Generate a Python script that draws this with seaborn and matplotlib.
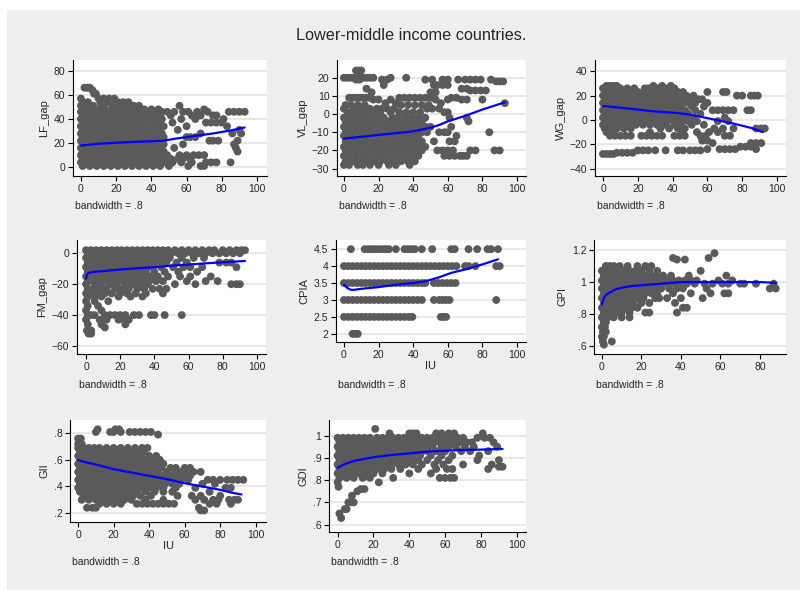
import matplotlib
matplotlib.use("Agg")
import matplotlib.pyplot as plt
from matplotlib.patches import Rectangle
import seaborn as sns
import pandas as pd

# ---------------- data ----------------
title = "Lower-middle income countries."
note = "bandwidth = .8"

# rows: (y value, [IU values])
lf_rows = [
    (66, [2, 3.5, 5]), (64, [6.5]), (61, [7.5, 8.5]),
    (57, [0, 10, 13, 16, 19]),
    (54, [1, 4, 11, 15, 21, 24, 27]),
    (51, [0, 3, 7, 12, 18, 22, 26, 30, 33, 56]),
    (48, [1, 5, 9, 14, 19, 23, 28, 32, 36, 40, 44, 70]),
    (46, [0, 3, 7, 11, 16, 21, 25, 30, 34, 38, 42, 46, 49, 53, 58, 61, 66, 72, 84, 87, 90, 93]),
    (43, [1, 5, 9, 13, 18, 23, 27, 31, 36, 40, 45, 51, 63, 68, 75, 77]),
    (40, [0, 3, 7, 11, 15, 20, 25, 29, 33, 38, 42, 46, 57, 65, 81]),
    (37, [1, 5, 9, 13, 17, 22, 27, 31, 35, 40, 44, 52, 71, 74, 77, 80]),
    (34, [0, 3, 7, 11, 15, 19, 24, 29, 33, 37, 42, 47, 60, 83]),
    (31, [1, 5, 9, 13, 17, 21, 26, 31, 35, 39, 44, 55, 90]),
    (28, [0, 3, 7, 11, 15, 19, 23, 28, 33, 37, 41, 46, 68, 86, 91]),
    (25, [1, 5, 9, 13, 17, 21, 25, 30, 35, 39, 43, 47, 60, 62, 65]),
    (22, [0, 3, 7, 11, 15, 19, 23, 27, 32, 37, 41, 45, 73, 75, 78, 89]),
    (19, [1, 5, 9, 13, 17, 21, 25, 29, 34, 39, 43, 47, 58, 87]),
    (16, [0, 3, 7, 11, 15, 19, 23, 27, 31, 36, 41, 45, 53, 88]),
    (13, [1, 5, 9, 13, 17, 21, 25, 29, 33, 38, 43, 47, 89]),
    (10, [0, 3, 7, 11, 15, 19, 23, 28, 32, 36, 40, 45, 49, 56, 60, 64, 67, 70]),
    (7, [1, 5, 9, 13, 17, 21, 25, 30, 34, 38, 42, 46, 51, 55, 58, 62]),
    (4, [0, 3, 7, 11, 15, 19, 23, 27, 32, 36, 40, 44, 48, 52, 57, 63, 71, 74, 77, 85]),
    (1, [1, 5, 9, 13, 17, 21, 25, 29, 33, 37, 41, 45, 50, 61, 68, 70]),
]
lf_curve_x = [0, 10, 20, 30, 40, 47, 55, 65, 75, 85, 93]
lf_curve_y = [18, 19.5, 20.3, 21, 21.5, 22, 24, 26, 28, 30.5, 33]

vl_rows = [
    (24, [7, 8.5, 10]), (22, [9]),
    (20, [0, 2, 4, 5.5, 11, 13, 15, 17, 27, 36]),
    (19, [7, 9, 22, 25, 47, 51, 57, 60, 66, 70, 73, 76, 79, 85]),
    (18, [88, 90, 92]),
    (16, [23, 52, 54, 57, 60]),
    (14, [13, 68, 71]),
    (13, [73, 76, 79, 82]),
    (12, [16, 50, 53]),
    (9, [3, 5, 7, 9, 11, 13, 15, 32, 35, 38, 41, 44, 47, 50, 62, 65]),
    (8, [17, 20, 27, 53, 60, 68, 71, 80]),
    (6, [24, 30, 56, 93]),
    (5, [1, 4, 8, 12, 33, 37, 41, 45, 49]),
    (3, [0, 6, 10, 15, 19, 22, 25, 29, 48, 51, 55]),
    (1, [2, 5, 9, 13, 17, 21, 27, 32, 36, 40, 44, 58, 60]),
    (-2, [0, 3, 7, 11, 15, 19, 23, 28, 31, 35, 39, 43, 47, 61, 71]),
    (-4, [1, 5, 9, 13, 17, 21, 25, 29, 33, 37, 41, 45, 72]),
    (-7, [0, 3, 7, 11, 15, 19, 23, 27, 31, 35, 39, 43, 47, 50, 62]),
    (-10, [1, 5, 9, 13, 17, 21, 25, 29, 33, 37, 41, 45, 48, 55, 58, 60, 84]),
    (-12, [0, 3, 7, 11, 15, 19, 23, 27, 31, 35, 39, 43, 65]),
    (-15, [1, 5, 9, 13, 17, 21, 25, 29, 33, 37, 41, 45, 52, 61, 64]),
    (-18, [0, 3, 7, 11, 15, 19, 23, 27, 31, 35, 39, 43, 47]),
    (-20, [1, 5, 9, 13, 17, 21, 25, 29, 33, 37, 41, 45, 54, 57, 60, 63, 73, 76, 87, 90]),
    (-23, [0, 3, 7, 11, 15, 19, 23, 27, 31, 35, 39, 43, 58, 61, 64, 67, 69, 71]),
    (-26, [1, 5, 9, 13, 17, 21, 25, 29, 33, 37, 41]),
    (-28, [0, 3, 8, 11, 15, 20, 26, 30, 38]),
]
vl_curve_x = [0, 10, 20, 30, 40, 50, 55, 60, 70, 80, 93]
vl_curve_y = [-13.5, -12.5, -11.5, -10.5, -9.5, -7.5, -6, -4, -1, 2.5, 6.5]

wg_rows = [
    (28, [2, 4, 6, 8, 29, 34, 39]),
    (26, [0, 3, 7, 10, 14, 18, 24, 26, 32, 37, 41]),
    (23, [1, 5, 9, 13, 16, 20, 23, 28, 31, 35, 39, 43, 46, 60, 69, 71]),
    (20, [0, 3, 7, 11, 15, 18, 22, 26, 30, 34, 38, 42, 45, 48, 52, 77, 80, 85, 87, 89]),
    (17, [1, 5, 9, 13, 17, 21, 25, 29, 33, 37, 41, 44, 47, 50, 55, 57]),
    (14, [0, 3, 7, 11, 15, 19, 23, 27, 31, 35, 39, 43, 46, 49, 53, 60]),
    (11, [1, 5, 9, 13, 17, 21, 25, 29, 33, 37, 41, 45, 51, 58]),
    (8, [0, 3, 7, 11, 15, 19, 23, 27, 31, 35, 39, 43, 47, 53, 63, 66, 69, 72, 75, 83, 85]),
    (5, [1, 5, 9, 13, 17, 21, 25, 29, 33, 37, 41, 45, 49, 56]),
    (2, [0, 3, 7, 11, 15, 19, 23, 27, 31, 35, 39, 43, 47, 52, 70]),
    (-1, [1, 5, 9, 13, 17, 21, 25, 29, 33, 37, 41, 45, 49, 54, 66, 72]),
    (-4, [0, 3, 7, 11, 15, 19, 23, 27, 31, 36, 41, 45, 51, 58]),
    (-7, [1, 4, 8, 12, 16, 33, 38, 43, 47, 64, 69, 75, 88, 91, 93]),
    (-10, [2, 6, 27, 46, 54, 61, 66]),
    (-13, [4, 7, 10, 13, 16, 22, 25, 28, 31, 34, 41, 44, 47, 56, 59, 70, 73]),
    (-17, [57, 60]),
    (-19, [63, 85, 88, 91]),
    (-22, [79, 82, 85]),
    (-24, [60, 67, 70, 73, 76, 88]),
    (-25, [20, 23, 26, 30, 36, 43, 46, 50, 53, 56]),
    (-27, [8, 11, 14, 17]),
    (-28, [0, 2, 4, 6]),
]
wg_curve_x = [0, 10, 20, 30, 40, 47, 55, 65, 75, 85, 92]
wg_curve_y = [11.5, 10, 8.5, 7, 6, 5, 3, 0, -3, -6.5, -10]

fm_rows = [
    (2, [0, 3, 6, 9, 12, 15, 18, 21, 24, 27, 30, 33, 36, 39, 42, 45, 48, 52, 56, 60, 64, 68, 72, 75, 80, 84, 88, 91, 93]),
    (0, [1, 4, 7, 10, 13, 16, 19, 22, 25, 28, 31, 34, 37, 40, 43, 46, 50, 54, 58, 62, 66, 70, 74, 78, 82, 86, 90]),
    (-3, [0, 3, 6, 9, 12, 15, 18, 21, 24, 27, 30, 33, 36, 39, 42, 45, 49, 56, 63, 69]),
    (-6, [1, 4, 7, 10, 13, 16, 19, 22, 25, 28, 31, 34, 37, 40, 43, 47, 53, 59, 78, 82, 85]),
    (-9, [0, 3, 6, 9, 12, 15, 18, 21, 24, 27, 30, 33, 36, 39, 44, 51, 57, 61, 68, 88]),
    (-12, [1, 4, 7, 10, 13, 16, 19, 22, 25, 28, 31, 35, 40, 46, 54, 65]),
    (-15, [0, 3, 6, 9, 12, 15, 18, 21, 24, 27, 30, 34, 38, 42, 48, 55, 61, 73]),
    (-18, [1, 4, 7, 10, 13, 16, 19, 22, 25, 29, 33, 37, 41, 45, 59, 70, 77]),
    (-20, [0, 5, 9, 14, 18, 23, 27, 31, 36, 52, 64, 85, 88, 90]),
    (-23, [1, 4, 8, 12, 17, 21, 25, 30, 34, 39, 43, 47]),
    (-26, [0, 3, 7, 11, 15, 20, 24, 29, 35, 45]),
    (-28, [1, 5, 9, 19, 26, 33]),
    (-31, [0, 5, 13]),
    (-34, [1, 7]),
    (-37, [0, 9]),
    (-40, [1, 3, 5, 11, 14, 17, 20, 23, 28, 31, 38, 40, 46, 56]),
    (-43, [0, 8, 10, 12, 19, 22, 25]),
    (-46, [1, 9, 23]),
    (-48, [11]),
    (-50, [0.5, 3]),
    (-52, [1.5, 3]),
]
fm_curve_x = [0, 0.5, 1, 2, 5, 10, 20, 30, 40, 50, 60, 70, 80, 93]
fm_curve_y = [-16.5, -14, -13, -12.5, -12, -11.5, -10.5, -9.7, -9, -8, -7.3, -6.5, -5.8, -5]

cpia_rows = [
    (4.5, [4, 12, 14, 16, 18, 20, 22, 24, 26, 30, 35, 37, 39, 41, 45, 51, 62, 64, 72, 77, 83, 85, 89]),
    (4.0, [0, 2.5, 5, 7.5, 10, 12.5, 15, 17.5, 20, 22.5, 25, 27.5, 30, 32.5, 35, 37.5, 40, 42.5, 45,
           47.5, 50, 52.5, 55, 57.5, 60, 62.5, 65, 70, 72, 76, 88, 90]),
    (3.5, [0, 2.5, 5, 7.5, 10, 12.5, 15, 17.5, 20, 22.5, 25, 27.5, 30, 32.5, 35, 37.5, 40, 42.5, 45,
           47, 52, 54.5, 57, 59.5, 62, 64.5]),
    (3.0, [0, 2.5, 5, 7.5, 10, 12.5, 15, 17.5, 20, 22.5, 25, 27.5, 30, 32.5, 35, 37.5, 40, 42.5, 45,
           52, 55, 57, 59, 61, 88]),
    (2.5, [0, 2.5, 5, 7.5, 10, 12.5, 15, 17.5, 20, 22.5, 25, 27.5, 30, 32.5, 35, 37.5, 39.5, 56, 57.5, 59]),
    (2.0, [5, 6.5, 8]),
]
cpia_curve_x = [0, 2, 4, 6, 10, 20, 30, 40, 47, 55, 62, 70, 80, 89]
cpia_curve_y = [3.45, 3.35, 3.3, 3.3, 3.33, 3.38, 3.45, 3.5, 3.55, 3.67, 3.8, 3.9, 4.05, 4.2]

gpi_rows = [
    (1.18, [57]), (1.15, [36, 54]), (1.14, [38, 42]),
    (1.10, [2, 4, 6, 9, 13, 18, 22, 25]),
    (1.07, [0, 3, 5, 8, 11, 14, 17, 20, 24, 28, 50]),
    (1.04, [1, 4, 7, 10, 13, 16, 19, 22, 25, 28, 31, 35, 44, 63]),
    (1.01, [0, 3, 6, 9, 12, 15, 18, 21, 24, 27, 30, 33, 36, 39, 42, 45, 48, 59, 66]),
    (0.99, [1, 4, 7, 10, 13, 16, 19, 22, 25, 28, 31, 34, 37, 40, 43, 47, 52, 56, 61, 64, 70, 72, 78, 87]),
    (0.96, [0, 3, 6, 9, 12, 15, 18, 21, 24, 27, 30, 34, 38, 41, 53, 85, 88]),
    (0.93, [1, 4, 7, 10, 13, 16, 19, 22, 25, 28, 36, 45, 55, 62, 64]),
    (0.90, [0, 3, 6, 9, 12, 15, 18, 21, 27, 29, 33, 40, 51]),
    (0.87, [1, 4, 7, 10, 13, 16, 20, 24, 37]),
    (0.84, [0, 3, 6, 9, 12, 15, 18, 41, 43]),
    (0.81, [1, 4, 7, 10, 14, 22, 24, 38]),
    (0.78, [0, 3, 6, 10, 14]),
    (0.75, [1, 2]), (0.72, [0, 1.5]), (0.69, [0.5, 2]), (0.66, [0, 1]),
    (0.63, [0.5, 5]), (0.61, [1]),
]
gpi_curve_x = [0, 0.5, 1, 2, 4, 7, 10, 15, 20, 30, 40, 60, 80, 88]
gpi_curve_y = [0.86, 0.88, 0.9, 0.92, 0.935, 0.955, 0.965, 0.975, 0.98, 0.99, 1.0, 1.0, 1.0, 0.995]

gii_rows = [
    (0.83, [11, 21, 23]),
    (0.81, [10, 18, 20, 24, 29, 32, 35, 38, 41]),
    (0.79, [45]),
    (0.76, [0, 1.5]),
    (0.72, [0, 2]),
    (0.69, [0, 3, 6, 9, 12, 16, 20, 24, 28, 32, 36, 39]),
    (0.66, [1, 4, 7, 10, 13, 17, 21, 25, 29, 33, 37]),
    (0.63, [0, 3, 6, 9, 12, 15, 19, 23, 27, 31, 35, 40, 44]),
    (0.60, [1, 4, 7, 10, 14, 18, 22, 26, 30, 34, 38, 42, 46]),
    (0.57, [0, 3, 6, 9, 12, 16, 20, 24, 28, 32, 36, 40, 44, 48]),
    (0.54, [1, 4, 8, 11, 15, 19, 23, 27, 31, 35, 39, 43, 47, 52, 55, 60, 63]),
    (0.51, [0, 3, 6, 10, 13, 17, 21, 25, 29, 33, 37, 41, 45, 50, 55, 58, 62, 65, 69]),
    (0.48, [1, 5, 8, 12, 16, 20, 24, 28, 32, 36, 40, 44, 48, 52, 56, 60, 63]),
    (0.45, [0, 3, 7, 10, 14, 18, 22, 26, 30, 34, 38, 42, 46, 50, 54, 58, 62, 73, 76, 80, 84, 87, 90, 93]),
    (0.42, [1, 5, 9, 13, 17, 21, 25, 29, 33, 37, 41, 45, 49, 53, 57, 70, 77]),
    (0.39, [0, 4, 8, 12, 16, 20, 24, 28, 32, 36, 40, 44, 48, 55, 66, 83, 86]),
    (0.36, [1, 5, 9, 13, 17, 21, 25, 29, 33, 38, 43, 48, 53, 74]),
    (0.33, [3, 7, 11, 15, 19, 23, 27, 31, 35, 41, 56, 64, 69, 80]),
    (0.30, [2, 6, 10, 14, 18, 22, 26, 30, 38, 48, 66, 71, 76, 79, 85, 88, 90]),
    (0.27, [12, 16, 20, 24, 33, 36, 39, 42, 45, 48, 51, 54, 74, 78, 86]),
    (0.24, [5, 8, 10, 68]),
    (0.22, [69, 71]),
]
gii_curve_x = [0, 2, 5, 10, 20, 30, 40, 50, 60, 70, 80, 86, 92]
gii_curve_y = [0.6, 0.59, 0.58, 0.565, 0.53, 0.505, 0.48, 0.455, 0.425, 0.4, 0.375, 0.355, 0.34]

gdi_rows = [
    (1.03, [21]),
    (1.01, [29, 40, 42, 44, 55, 58, 62, 65, 81]),
    (0.99, [0, 3, 6, 9, 12, 15, 18, 22, 25, 28, 31, 34, 37, 40, 44, 47, 50, 53, 56, 59, 63, 67, 70, 78, 82, 85]),
    (0.97, [1, 4, 7, 10, 13, 16, 19, 23, 26, 29, 32, 35, 38, 41, 45, 48, 51, 54, 57, 60, 64, 68, 72, 75, 87]),
    (0.95, [0, 3, 6, 9, 12, 15, 18, 21, 24, 27, 30, 33, 36, 39, 42, 46, 49, 53, 58, 62, 66, 71, 76, 89]),
    (0.93, [1, 4, 7, 10, 13, 16, 19, 22, 25, 28, 31, 34, 37, 40, 43, 47, 50, 55, 60, 69, 74, 84]),
    (0.91, [0, 3, 6, 9, 12, 15, 18, 21, 24, 27, 30, 33, 36, 39, 42, 46, 52, 58, 64, 79]),
    (0.89, [1, 4, 7, 10, 13, 16, 19, 22, 25, 28, 31, 34, 37, 41, 45, 50, 56, 62, 78, 90]),
    (0.87, [0, 3, 6, 9, 12, 15, 18, 21, 24, 27, 30, 34, 38, 42, 47, 54, 59, 70, 86]),
    (0.86, [90, 92]),
    (0.85, [1, 4, 7, 10, 13, 16, 19, 22, 26, 30, 35, 45, 55, 61, 64, 84]),
    (0.83, [0, 3, 6, 9, 12, 16, 20, 25, 40, 52]),
    (0.81, [1, 5, 9, 14, 18, 31, 57, 60, 63, 65]),
    (0.79, [0, 23]), (0.77, [0.5]), (0.76, [13, 15]), (0.75, [11]),
    (0.73, [8]), (0.70, [6, 7, 9]), (0.67, [4, 5]), (0.65, [1]), (0.63, [2]),
]
gdi_curve_x = [0, 2, 5, 10, 20, 30, 40, 50, 60, 70, 80, 92]
gdi_curve_y = [0.855, 0.865, 0.875, 0.888, 0.903, 0.913, 0.92, 0.928, 0.932, 0.935, 0.937, 0.94]

# ---------------- styling ----------------
sns.set_style("white")
plt.rcParams['font.family'] = ['Liberation Sans', 'DejaVu Sans']
plt.rcParams['axes.linewidth'] = 0.8

W, H = 800, 590
fig = plt.figure(figsize=(W / 100, H / 100), dpi=100, facecolor='white')
bg = Rectangle((7 / W, 0), 1, 1 - 10 / H, transform=fig.transFigure,
               facecolor='#eeeeee', edgecolor='none', zorder=-10)
fig.patches.append(bg)

PT_COLOR = '#5a5a5a'
FS = 7.5


def expand(rows):
    xs, ys = [], []
    for yv, row in rows:
        for xv in row:
            xs.append(xv)
            ys.append(yv)
    return pd.DataFrame({'IU': xs, 'val': ys})


panels = [
    # rows, cx, cy, ylabel, (left, right, top, bottom) px, xlim, ylim, xticks, yticks, yticklabels, xlabel, note_y
    (lf_rows, lf_curve_x, lf_curve_y, 'LF_gap', (73, 267, 60, 176), (-4.5, 105.7), (-7.3, 89),
     [0, 20, 40, 60, 80, 100], [0, 20, 40, 60, 80], None, '', 206),
    (vl_rows, vl_curve_x, vl_curve_y, 'VL_gap', (337, 526, 60, 176), (-4.0, 105.2), (-34.1, 29.8),
     [0, 20, 40, 60, 80, 100], [-30, -20, -10, 0, 10, 20], None, '', 206),
    (wg_rows, wg_curve_x, wg_curve_y, 'WG_gap', (595, 786, 60, 176), (-4.6, 105.2), (-46.1, 49.3),
     [0, 20, 40, 60, 80, 100], [-40, -20, 0, 20, 40], None, '', 206),
    (fm_rows, fm_curve_x, fm_curve_y, 'FM_gap', (77, 266, 240, 354), (-5.3, 105.3), (-65.2, 8.6),
     [0, 20, 40, 60, 80, 100], [-60, -40, -20, 0], None, '', 385),
    (cpia_rows, cpia_curve_x, cpia_curve_y, 'CPIA', (336, 526, 240, 342), (-4.6, 105.2), (1.76, 4.77),
     [0, 20, 40, 60, 80, 100], [2, 2.5, 3, 3.5, 4, 4.5], ['2', '2.5', '3', '3.5', '4', '4.5'], 'IU', 385),
    (gpi_rows, gpi_curve_x, gpi_curve_y, 'GPI', (594, 786, 240, 354), (-4.0, 93.2), (0.552, 1.262),
     [0, 20, 40, 60, 80], [0.6, 0.8, 1.0, 1.2], ['.6', '.8', '1', '1.2'], '', 385),
    (gii_rows, gii_curve_x, gii_curve_y, 'GII', (70, 266, 420, 522), (-4.6, 105.8), (0.133, 0.9),
     [0, 20, 40, 60, 80, 100], [0.2, 0.4, 0.6, 0.8], ['.2', '.4', '.6', '.8'], 'IU', 562),
    (gdi_rows, gdi_curve_x, gdi_curve_y, 'GDI', (329, 526, 420, 532), (-4.8, 105.1), (0.567, 1.07),
     [0, 20, 40, 60, 80, 100], [0.6, 0.7, 0.8, 0.9, 1.0], ['.6', '.7', '.8', '.9', '1'], '', 562),
]

for rows, cx, cy, ylab, (l, r, t, b), xlim, ylim, xt, yt, ytl, xlab, note_y in panels:
    ax = fig.add_axes([l / W, 1 - b / H, (r - l) / W, (b - t) / H])
    ax.set_facecolor('white')
    df = expand(rows)
    sns.scatterplot(data=df, x='IU', y='val', ax=ax, color=PT_COLOR, s=32,
                    linewidth=0, edgecolor='none', legend=False, zorder=2)
    sns.lineplot(x=cx, y=cy, ax=ax, color='#0000ff', lw=1.6, sort=False,
                 estimator=None, zorder=3)
    ax.set_xlim(*xlim)
    ax.set_ylim(*ylim)
    ax.set_xticks(xt)
    ax.set_yticks(yt)
    if ytl is not None:
        ax.set_yticklabels(ytl)
    ax.set_xlabel(xlab, fontsize=FS + 0.5, labelpad=1)
    ax.set_ylabel(ylab, fontsize=FS + 0.5, labelpad=3)
    ax.tick_params(axis='both', which='major', labelsize=FS, direction='out',
                   length=3.5, width=0.8, color='black', pad=2,
                   bottom=True, left=True)
    ax.yaxis.grid(True, color='#e6e6e6', lw=1.3)
    ax.xaxis.grid(False)
    ax.set_axisbelow(True)
    for side in ('top', 'right'):
        ax.spines[side].set_visible(False)
    for side in ('left', 'bottom'):
        ax.spines[side].set_color('black')
        ax.spines[side].set_linewidth(0.8)
    fig.text((l + 2) / W, 1 - note_y / H, note, fontsize=FS, ha='left', va='center')

fig.text(411 / W, 1 - 35 / H, title, fontsize=11.7, ha='center', va='center')

fig.savefig('out.png', dpi=100, facecolor=fig.get_facecolor())
